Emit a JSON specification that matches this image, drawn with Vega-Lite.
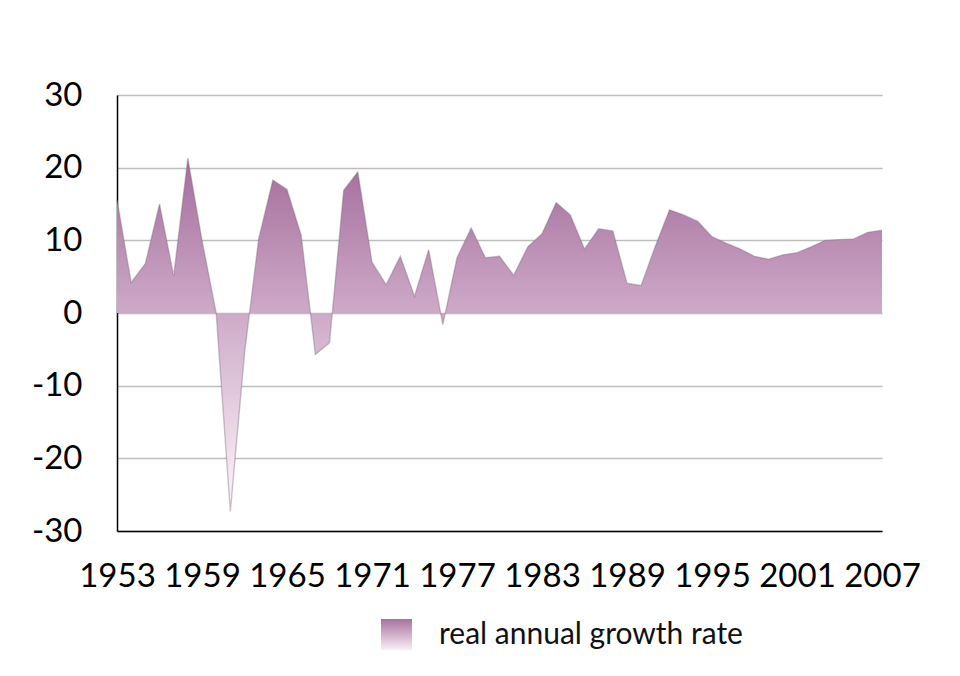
{
  "$schema": "https://vega.github.io/schema/vega-lite/v6.json",
  "width": 765,
  "height": 436,
  "autosize": {"type": "none"},
  "padding": {"left": 117, "top": 95, "right": 78, "bottom": 145},
  "background": "white",
  "config": {
    "view": {"stroke": null},
    "font": "Lato"
  },
  "data": {
    "values": [
      {"year": 1953, "growth": 15.6},
      {"year": 1954, "growth": 4.2},
      {"year": 1955, "growth": 6.8},
      {"year": 1956, "growth": 15.0},
      {"year": 1957, "growth": 5.1},
      {"year": 1958, "growth": 21.3},
      {"year": 1959, "growth": 10.0},
      {"year": 1960, "growth": 0.0},
      {"year": 1961, "growth": -27.3},
      {"year": 1962, "growth": -5.6},
      {"year": 1963, "growth": 10.2},
      {"year": 1964, "growth": 18.3},
      {"year": 1965, "growth": 17.0},
      {"year": 1966, "growth": 10.7},
      {"year": 1967, "growth": -5.7},
      {"year": 1968, "growth": -4.1},
      {"year": 1969, "growth": 16.9},
      {"year": 1970, "growth": 19.4},
      {"year": 1971, "growth": 7.0},
      {"year": 1972, "growth": 3.9},
      {"year": 1973, "growth": 7.8},
      {"year": 1974, "growth": 2.3},
      {"year": 1975, "growth": 8.7},
      {"year": 1976, "growth": -1.6},
      {"year": 1977, "growth": 7.6},
      {"year": 1978, "growth": 11.7},
      {"year": 1979, "growth": 7.6},
      {"year": 1980, "growth": 7.8},
      {"year": 1981, "growth": 5.2},
      {"year": 1982, "growth": 9.1},
      {"year": 1983, "growth": 10.9},
      {"year": 1984, "growth": 15.2},
      {"year": 1985, "growth": 13.5},
      {"year": 1986, "growth": 8.8},
      {"year": 1987, "growth": 11.6},
      {"year": 1988, "growth": 11.3},
      {"year": 1989, "growth": 4.1},
      {"year": 1990, "growth": 3.8},
      {"year": 1991, "growth": 9.2},
      {"year": 1992, "growth": 14.2},
      {"year": 1993, "growth": 13.5},
      {"year": 1994, "growth": 12.6},
      {"year": 1995, "growth": 10.5},
      {"year": 1996, "growth": 9.6},
      {"year": 1997, "growth": 8.8},
      {"year": 1998, "growth": 7.8},
      {"year": 1999, "growth": 7.4},
      {"year": 2000, "growth": 8.0},
      {"year": 2001, "growth": 8.3},
      {"year": 2002, "growth": 9.1},
      {"year": 2003, "growth": 10.0},
      {"year": 2004, "growth": 10.1},
      {"year": 2005, "growth": 10.2},
      {"year": 2006, "growth": 11.1},
      {"year": 2007, "growth": 11.4}
    ]
  },
  "encoding": {
    "x": {
      "field": "year",
      "type": "quantitative",
      "scale": {"domain": [1953, 2007], "nice": false, "zero": false},
      "axis": {
        "title": null,
        "values": [1953, 1959, 1965, 1971, 1977, 1983, 1989, 1995, 2001, 2007],
        "format": "d",
        "grid": false,
        "ticks": false,
        "domainColor": "#000000",
        "domainWidth": 1.5,
        "labelFont": "Lato",
        "labelFontSize": 33,
        "labelColor": "#000000",
        "labelPadding": 29,
        "labelOverlap": false,
        "labelFlush": false
      }
    },
    "y": {
      "field": "growth",
      "type": "quantitative",
      "scale": {"domain": [-30, 30], "nice": false},
      "axis": {
        "title": null,
        "values": [-30, -20, -10, 0, 10, 20, 30],
        "labelExpr": "replace(format(datum.value, 'd'), '\u2212', '-')",
        "grid": true,
        "gridColor": "#bdbdbd",
        "gridWidth": 1.5,
        "ticks": false,
        "domainColor": "#000000",
        "domainWidth": 1.5,
        "labelFont": "Lato",
        "labelFontSize": 33,
        "labelColor": "#000000",
        "labelPadding": 35,
        "labelOverlap": false,
        "labelFlush": false
      }
    }
  },
  "layer": [
    {
      "mark": {
        "type": "area",
        "color": {
          "gradient": "linear",
          "x1": 0, "y1": 0, "x2": 0, "y2": 1,
          "stops": [
            {"offset": 0, "color": "#a46d9b"},
            {"offset": 0.44, "color": "#ceaac8"},
            {"offset": 1, "color": "#fcf7fb"}
          ]
        }
      },
      "encoding": {
        "y2": {"datum": 0}
      }
    },
    {
      "mark": {"type": "line", "stroke": "#7f6a7c", "strokeWidth": 1.4, "opacity": 0.4},
      "encoding": {}
    },
    {
      "mark": {"type": "point", "opacity": 0, "size": 1},
      "encoding": {
        "color": {
          "field": "growth",
          "type": "quantitative",
          "scale": {"domain": [-30, 30], "nice": false, "range": ["#f8f0f6", "#a8729f"]},
          "legend": {
            "type": "gradient",
            "title": null,
            "orient": "none",
            "legendX": 264,
            "legendY": 524,
            "direction": "vertical",
            "gradientLength": 31,
            "gradientThickness": 31,
            "gradientOpacity": 1,
            "gradientStrokeWidth": 0,
            "values": [0],
            "labelExpr": "'real annual growth rate'",
            "labelFont": "Lato",
            "labelFontSize": 30,
            "labelColor": "#111111",
            "labelOffset": 27,
            "labelLimit": 0,
            "labelBaseline": "middle",
            "labelOverlap": false,
            "padding": 0
          }
        }
      }
    }
  ]
}
